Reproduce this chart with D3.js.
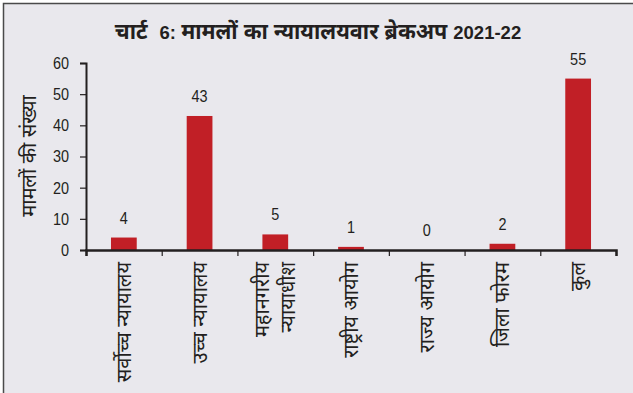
<!DOCTYPE html>
<html>
<head>
<meta charset="utf-8">
<script src="https://cdn.jsdelivr.net/npm/d3@7"></script>
<style>
  html, body { margin: 0; padding: 0; background: #fff; }
  svg { display: block; }
  text { font-family: "Liberation Sans", Arial, "Noto Sans Devanagari", "Noto Sans", sans-serif; fill: #231f20; }
</style>
</head>
<body>
<svg id="chart" width="633" height="393"></svg>
<script>
// Court-wise breakup of cases, 2021-22
const categories = [
  ["सर्वोच्च न्यायालय"],
  ["उच्च न्यायालय"],
  ["महानगरीय", "न्यायाधीश"],
  ["राष्ट्रीय आयोग"],
  ["राज्य आयोग"],
  ["जिला फोरम"],
  ["कुल"]
];
const caseCounts = [4, 43, 5, 1, 0, 2, 55];
const yTicks = [0, 10, 20, 30, 40, 50, 60];
const titleParts = [
  { text: "चार्ट  ", script: "deva" },
  { text: "6: ", script: "latn" },
  { text: "मामलों का न्यायालयवार ब्रेकअप ", script: "deva" },
  { text: "2021-22", script: "latn" }
];
const yAxisTitle = "मामलों की संख्या";

const W = 633, H = 393;
const NARROW = 0.85; // horizontal squeeze for the numerals
const svg = d3.select("#chart");

// panel background with frame on top and left
svg.append("rect").attr("x", 3).attr("y", 3).attr("width", W).attr("height", H)
  .attr("fill", "#e9e8ed");
svg.append("path").attr("d", `M3.5,${H} V3.5 H${W}`)
  .attr("fill", "none").attr("stroke", "#4a4a4a").attr("stroke-width", 1.5);

const margin = { left: 86, right: 17, top: 63, bottom: 143 };
const x = d3.scaleBand()
  .domain(d3.range(categories.length))
  .range([margin.left, W - margin.right])
  .paddingInner(0.66).paddingOuter(0.33);
const xb = d3.scaleLinear().domain([0, categories.length]).range([margin.left, W - margin.right]);
const y = d3.scaleLinear().domain([0, 60]).range([H - margin.bottom, margin.top]);

// title
svg.append("text")
  .attr("x", 318).attr("y", 39)
  .attr("text-anchor", "middle")
  .attr("font-weight", "bold")
  .style("white-space", "pre")
  .selectAll("tspan")
  .data(titleParts)
  .join("tspan")
  .attr("font-size", d => d.script === "latn" ? 18.5 : 21.5)
  .text(d => d.text);

// bars
svg.append("g").selectAll("rect")
  .data(caseCounts)
  .join("rect")
  .attr("x", (d, i) => x(i))
  .attr("width", x.bandwidth())
  .attr("y", d => y(d))
  .attr("height", d => y(0) - y(d))
  .attr("fill", "#c11f26");

// value labels
svg.append("g").selectAll("text")
  .data(caseCounts)
  .join("text")
  .attr("transform", (d, i) => `translate(${x(i) + x.bandwidth() / 2},${y(d) - 14}) scale(${NARROW},1)`)
  .attr("text-anchor", "middle")
  .attr("font-size", 17)
  .text(d => d);

// y axis
const yAxis = svg.append("g")
  .attr("transform", `translate(${margin.left},0)`)
  .call(d3.axisLeft(y).tickValues(yTicks).tickSize(6).tickPadding(5));
yAxis.select(".domain").attr("stroke", "#231f20").attr("stroke-width", 2);
yAxis.selectAll(".tick line").attr("stroke", "#231f20").attr("stroke-width", 1.2);
yAxis.selectAll(".tick text")
  .attr("font-size", 17).attr("fill", "#231f20").attr("font-family", null)
  .attr("x", -17 / NARROW)
  .attr("transform", `scale(${NARROW},1)`);

// x axis: tick marks at category boundaries
const xAxis = svg.append("g")
  .attr("transform", `translate(0,${y(0)})`)
  .call(d3.axisBottom(xb).tickValues(d3.range(categories.length + 1)).tickSize(6).tickFormat(""));
xAxis.select(".domain").attr("stroke", "#231f20").attr("stroke-width", 2.5);
xAxis.selectAll(".tick line").attr("stroke", "#231f20").attr("stroke-width", 1.2);

// rotated category labels
const labels = svg.append("g").selectAll("text")
  .data(categories)
  .join("text")
  .attr("transform", (d, i) => `translate(${x(i) + x.bandwidth() / 2},${y(0) + 12}) rotate(-90)`)
  .attr("text-anchor", "end")
  .attr("font-size", 20);
labels.selectAll("tspan")
  .data(d => d.map((t, k) => ({ t, k, n: d.length })))
  .join("tspan")
  .attr("x", 0)
  .attr("y", d => (d.k - (d.n - 1) / 2) * 26)
  .attr("dy", "0.35em")
  .text(d => d.t);

// y axis title
svg.append("text")
  .attr("transform", `translate(36,156) rotate(-90)`)
  .attr("text-anchor", "middle")
  .attr("font-size", 20)
  .text(yAxisTitle);
</script>
</body>
</html>
